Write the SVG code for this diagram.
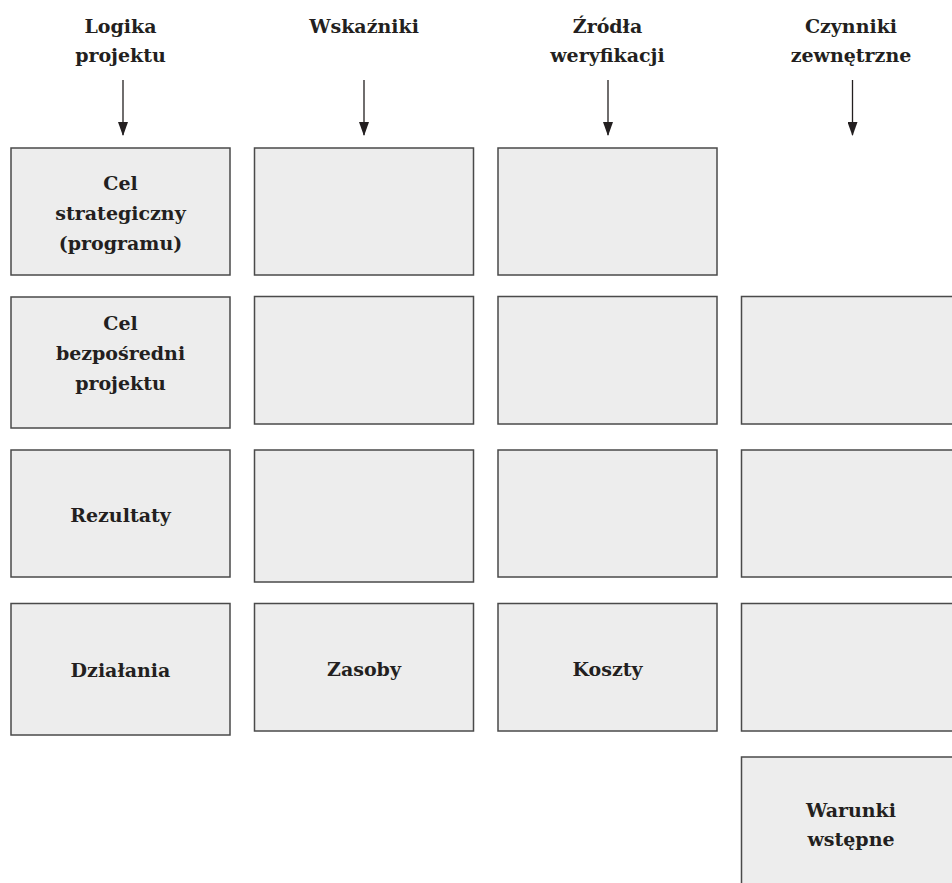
<svg xmlns="http://www.w3.org/2000/svg" width="952" height="883" viewBox="0 0 952 883">
  <style>
    .box { fill: #ededed; stroke: #4a4a4a; stroke-width: 1.5; }
    .lbl { font-family: "DejaVu Serif", "Liberation Serif", serif; font-weight: bold; font-size: 19px; fill: #231f20; text-anchor: middle; }
    .arrow { stroke: #231f20; stroke-width: 1.3; fill: none; marker-end: url(#head); }
  </style>
  <defs>
    <!-- filled arrowhead, 14 long and 10 wide, tip at the end of the line -->
    <marker id="head" markerUnits="userSpaceOnUse" markerWidth="14" markerHeight="10" viewBox="0 0 14 10" refX="13" refY="5" orient="auto">
      <path d="M0,0 L14,5 L0,10 Z" fill="#231f20"/>
    </marker>
  </defs>
  <rect width="952" height="883" fill="#ffffff"/>

  <!-- column headings -->
  <g id="head-logika">
    <text class="lbl" x="120.5" y="33">Logika</text>
    <text class="lbl" x="120.5" y="61.5">projektu</text>
  </g>
  <g id="head-wskazniki">
    <text class="lbl" x="364" y="33">Wskaźniki</text>
  </g>
  <g id="head-zrodla">
    <text class="lbl" x="607.5" y="33">Źródła</text>
    <text class="lbl" x="607.5" y="61.5">weryfikacji</text>
  </g>
  <g id="head-czynniki">
    <text class="lbl" x="851" y="33">Czynniki</text>
    <text class="lbl" x="851" y="61.5">zewnętrzne</text>
  </g>

  <!-- arrows from headings down to the grid -->
  <g id="connectors">
    <path class="arrow" d="M123,80 V135"/>
    <path class="arrow" d="M364,80 V135"/>
    <path class="arrow" d="M608,80 V135"/>
    <path class="arrow" d="M852.5,80 V135"/>
  </g>

  <!-- column 1: project logic -->
  <g id="cel-strategiczny">
    <rect class="box" x="11" y="148" width="219" height="127"/>
    <text class="lbl" x="120.5" y="190">Cel</text>
    <text class="lbl" x="120.5" y="220">strategiczny</text>
    <text class="lbl" x="120.5" y="250">(programu)</text>
  </g>
  <g id="cel-bezposredni">
    <rect class="box" x="11" y="297" width="219" height="131"/>
    <text class="lbl" x="120.5" y="330">Cel</text>
    <text class="lbl" x="120.5" y="360">bezpośredni</text>
    <text class="lbl" x="120.5" y="390">projektu</text>
  </g>
  <g id="rezultaty">
    <rect class="box" x="11" y="450" width="219" height="127"/>
    <text class="lbl" x="120.5" y="522">Rezultaty</text>
  </g>
  <g id="dzialania">
    <rect class="box" x="11" y="603.5" width="219" height="131.5"/>
    <text class="lbl" x="120.5" y="677">Działania</text>
  </g>

  <!-- column 2: indicators -->
  <g id="wsk-1"><rect class="box" x="254.5" y="148" width="219" height="127"/></g>
  <g id="wsk-2"><rect class="box" x="254.5" y="296.5" width="219" height="127.5"/></g>
  <g id="wsk-3"><rect class="box" x="254.5" y="450" width="219" height="132"/></g>
  <g id="zasoby">
    <rect class="box" x="254.5" y="603.5" width="219" height="127.5"/>
    <text class="lbl" x="364" y="676">Zasoby</text>
  </g>

  <!-- column 3: sources of verification -->
  <g id="zr-1"><rect class="box" x="498" y="148" width="219" height="127"/></g>
  <g id="zr-2"><rect class="box" x="498" y="296.5" width="219" height="127.5"/></g>
  <g id="zr-3"><rect class="box" x="498" y="450" width="219" height="127"/></g>
  <g id="koszty">
    <rect class="box" x="498" y="603.5" width="219" height="127.5"/>
    <text class="lbl" x="607.5" y="676">Koszty</text>
  </g>

  <!-- column 4: external factors -->
  <g id="cz-1"><rect class="box" x="741.5" y="296.5" width="219" height="127.5"/></g>
  <g id="cz-2"><rect class="box" x="741.5" y="450" width="219" height="127"/></g>
  <g id="cz-3"><rect class="box" x="741.5" y="603.5" width="219" height="127.5"/></g>
  <g id="warunki">
    <rect class="box" x="741.5" y="757" width="219" height="140"/>
    <text class="lbl" x="851" y="816.5">Warunki</text>
    <text class="lbl" x="851" y="846">wstępne</text>
  </g>
</svg>
